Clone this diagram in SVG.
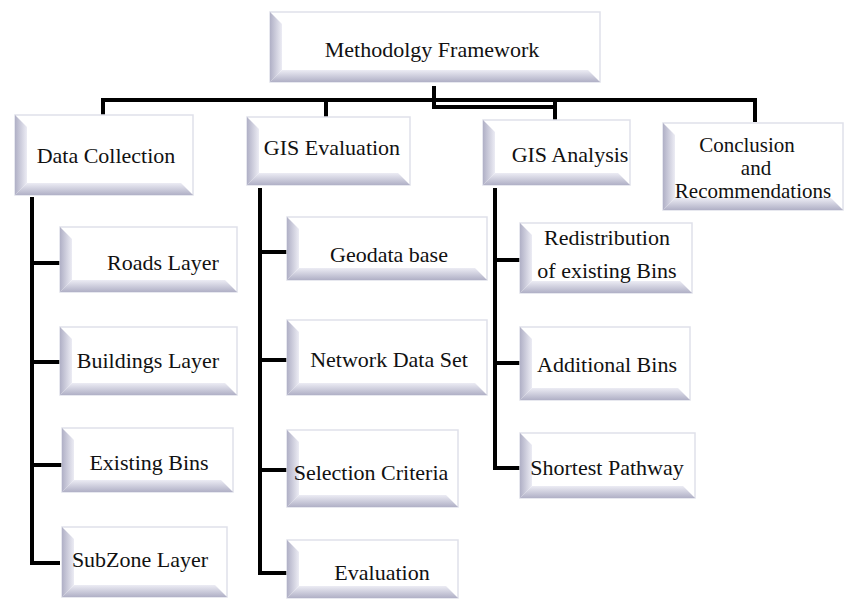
<svg xmlns="http://www.w3.org/2000/svg" width="849" height="600" viewBox="0 0 849 600">
<defs>
<linearGradient id="gl" x1="0" y1="0" x2="1" y2="0">
<stop offset="0" stop-color="#b0b0c6"/><stop offset="1" stop-color="#ececf4"/>
</linearGradient>
<linearGradient id="gb" x1="0" y1="0" x2="0" y2="1">
<stop offset="0" stop-color="#ececf4"/><stop offset="1" stop-color="#b0b0c6"/>
</linearGradient>
<style>
.f{fill:#fff;stroke:#dfe1ea;stroke-width:1.5}
.l{fill:url(#gl)}
.b{fill:url(#gb)}
text{font-family:"Liberation Serif","Times New Roman",serif;font-size:22px;text-anchor:middle;fill:#111}
.sm{font-size:21px}
.c{fill:none;stroke:#000;stroke-width:4;stroke-linejoin:miter}
</style>
</defs>
<rect width="849" height="600" fill="#fff"/>
<g id="connectors" class="c">
<path d="M103,116 V100 H755 V122"/>
<path d="M326,100 V117"/>
<path d="M434,86 V107 H555 M555,100 V120"/>
<path d="M32,197 V563 H60 M32,263 H60 M32,362 H60 M32,465 H62"/>
<path d="M260,188 V573 H287 M260,252 H287 M260,360 H287 M260,470 H287"/>
<path d="M495,188 V468 H520 M495,260 H520 M495,363 H520"/>
</g>
<g id="methodology">
<rect class="f" x="270" y="12" width="330" height="70"/>
<polygon class="l" points="270,12 282,24 282,70 270,82"/>
<polygon class="b" points="270,82 282,70 588,70 600,82"/>
<text x="432" y="57">Methodolgy Framework</text>
</g>
<g id="data-collection">
<rect class="f" x="15" y="115" width="178" height="80"/>
<polygon class="l" points="15,115 27,127 27,183 15,195"/>
<polygon class="b" points="15,195 27,183 181,183 193,195"/>
<text x="106" y="163">Data Collection</text>
</g>
<g id="gis-evaluation">
<rect class="f" x="247" y="117" width="163" height="68"/>
<polygon class="l" points="247,117 259,129 259,173 247,185"/>
<polygon class="b" points="247,185 259,173 398,173 410,185"/>
<text x="332" y="155">GIS Evaluation</text>
</g>
<g id="gis-analysis">
<rect class="f" x="483" y="120" width="147" height="65"/>
<polygon class="l" points="483,120 495,132 495,173 483,185"/>
<polygon class="b" points="483,185 495,173 618,173 630,185"/>
<text x="570" y="162">GIS Analysis</text>
</g>
<g id="conclusion">
<rect class="f" x="663" y="123" width="180" height="87"/>
<polygon class="l" points="663,123 675,135 675,198 663,210"/>
<polygon class="b" points="663,210 675,198 831,198 843,210"/>
<text class="sm" x="747" y="152">Conclusion</text>
<text class="sm" x="756" y="175">and</text>
<text class="sm" x="753" y="198">Recommendations</text>
</g>
<g id="roads-layer">
<rect class="f" x="60" y="227" width="177" height="65"/>
<polygon class="l" points="60,227 72,239 72,280 60,292"/>
<polygon class="b" points="60,292 72,280 225,280 237,292"/>
<text x="163" y="270">Roads Layer</text>
</g>
<g id="buildings-layer">
<rect class="f" x="60" y="327" width="177" height="68"/>
<polygon class="l" points="60,327 72,339 72,383 60,395"/>
<polygon class="b" points="60,395 72,383 225,383 237,395"/>
<text x="148" y="368">Buildings Layer</text>
</g>
<g id="existing-bins">
<rect class="f" x="62" y="428" width="171" height="64"/>
<polygon class="l" points="62,428 74,440 74,480 62,492"/>
<polygon class="b" points="62,492 74,480 221,480 233,492"/>
<text x="149" y="470">Existing Bins</text>
</g>
<g id="subzone-layer">
<rect class="f" x="62" y="527" width="165" height="70"/>
<polygon class="l" points="62,527 74,539 74,585 62,597"/>
<polygon class="b" points="62,597 74,585 215,585 227,597"/>
<text x="140" y="567">SubZone Layer</text>
</g>
<g id="geodata-base">
<rect class="f" x="287" y="217" width="200" height="63"/>
<polygon class="l" points="287,217 299,229 299,268 287,280"/>
<polygon class="b" points="287,280 299,268 475,268 487,280"/>
<text x="389" y="262">Geodata base</text>
</g>
<g id="network-data-set">
<rect class="f" x="287" y="320" width="200" height="75"/>
<polygon class="l" points="287,320 299,332 299,383 287,395"/>
<polygon class="b" points="287,395 299,383 475,383 487,395"/>
<text x="389" y="367">Network Data Set</text>
</g>
<g id="selection-criteria">
<rect class="f" x="287" y="430" width="171" height="77"/>
<polygon class="l" points="287,430 299,442 299,495 287,507"/>
<polygon class="b" points="287,507 299,495 446,495 458,507"/>
<text x="371" y="480">Selection Criteria</text>
</g>
<g id="evaluation">
<rect class="f" x="287" y="540" width="171" height="58"/>
<polygon class="l" points="287,540 299,552 299,586 287,598"/>
<polygon class="b" points="287,598 299,586 446,586 458,598"/>
<text x="382" y="580">Evaluation</text>
</g>
<g id="redistribution">
<rect class="f" x="520" y="223" width="172" height="70"/>
<polygon class="l" points="520,223 532,235 532,281 520,293"/>
<polygon class="b" points="520,293 532,281 680,281 692,293"/>
<text x="607" y="245">Redistribution</text>
<text x="607" y="278">of existing Bins</text>
</g>
<g id="additional-bins">
<rect class="f" x="520" y="327" width="170" height="73"/>
<polygon class="l" points="520,327 532,339 532,388 520,400"/>
<polygon class="b" points="520,400 532,388 678,388 690,400"/>
<text x="607" y="372">Additional Bins</text>
</g>
<g id="shortest-pathway">
<rect class="f" x="520" y="433" width="175" height="65"/>
<polygon class="l" points="520,433 532,445 532,486 520,498"/>
<polygon class="b" points="520,498 532,486 683,486 695,498"/>
<text x="607" y="475">Shortest Pathway</text>
</g>
</svg>
